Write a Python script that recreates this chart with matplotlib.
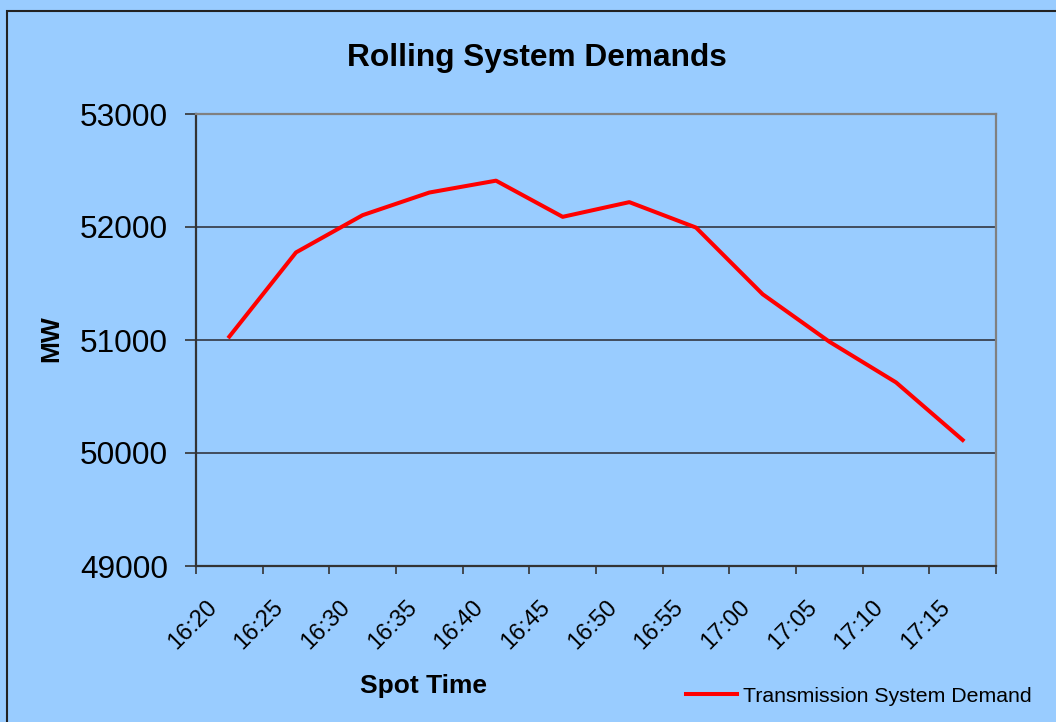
# Rolling System Demands chart
# line chart of transmission system demand against spot time

import matplotlib.pyplot as plt
import matplotlib.transforms as mtransforms
from matplotlib.patches import Rectangle

# data
times = ['16:20', '16:25', '16:30', '16:35', '16:40', '16:45',
         '16:50', '16:55', '17:00', '17:05', '17:10', '17:15']
demand = [51030, 51775, 52105, 52305, 52410, 52090,
          52220, 51995, 51405, 50985, 50625, 50115]
y_ticks = [49000, 50000, 51000, 52000, 53000]

bg = '#99CCFF'
plt.rcParams['font.family'] = ['Liberation Sans', 'DejaVu Sans']

W, H = 1056, 722
fig = plt.figure(figsize=(W / 100, H / 100), dpi=100, facecolor=bg)

# plot area placed in pixels: left 196, right 996, top 114, bottom 566
ax = fig.add_axes([196 / W, 1 - 566 / H, 800 / W, 452 / H])
ax.set_facecolor(bg)

x = list(range(len(times)))
ax.plot(x, demand, color='#FF0000', linewidth=2.9,
        label='Transmission System Demand', zorder=3)

# y axis
ax.set_ylim(49000, 53000)
ax.set_yticks(y_ticks)
ax.set_yticklabels([str(v) for v in y_ticks])
ax.tick_params(axis='y', direction='out', length=8, width=1.2,
               color='#333333', pad=12, labelsize=22.8)
ax.yaxis.grid(True, color='#3a4250', linewidth=1.3, zorder=1)

# x axis - labels at category centres, ticks between categories
ax.set_xlim(-0.5, len(times) - 0.5)
ax.set_xticks(x)
ax.set_xticklabels(times, rotation=45, ha='right', va='top')
ax.set_xticks([i - 0.5 for i in range(len(times) + 1)], minor=True)
ax.tick_params(axis='x', which='major', length=0, pad=22, labelsize=17)
ax.tick_params(axis='x', which='minor', direction='out', length=6,
               width=1.2, color='#333333')
shift = mtransforms.ScaledTranslation(-8 / 100, 0, fig.dpi_scale_trans)
for lab in ax.get_xticklabels():
    lab.set_transform(lab.get_transform() + shift)

# borders of the plot area
ax.spines['left'].set_color('#333333')
ax.spines['bottom'].set_color('#333333')
ax.spines['top'].set_color('#808080')
ax.spines['right'].set_color('#808080')
for s in ax.spines.values():
    s.set_linewidth(1.6)

# titles and axis names
fig.text(537 / W, 1 - 66 / H, 'Rolling System Demands', ha='center',
         va='baseline', fontsize=22.8, fontweight='bold')
fig.text(424 / W, 1 - 693 / H, 'Spot Time', ha='center', va='baseline',
         fontsize=19, fontweight='bold')
fig.text(58 / W, 1 - 339 / H, 'MW', rotation=90, rotation_mode='anchor',
         ha='center', va='baseline', fontsize=19, fontweight='bold')

# legend at the bottom right
ax.legend(loc='center left', bbox_to_anchor=(686 / W, 1 - 696 / H),
          bbox_transform=fig.transFigure, frameon=False, fontsize=15.3,
          handlelength=2.4, handletextpad=0.3, borderpad=0,
          borderaxespad=0)

# dark border round the chart area
fig.patches.append(Rectangle((7 / W, -0.1), 1.2, 1.1 - 11 / H,
                             transform=fig.transFigure, fill=False,
                             edgecolor='#222222', linewidth=1.5))

fig.savefig('out.png', dpi=100, facecolor=bg)
